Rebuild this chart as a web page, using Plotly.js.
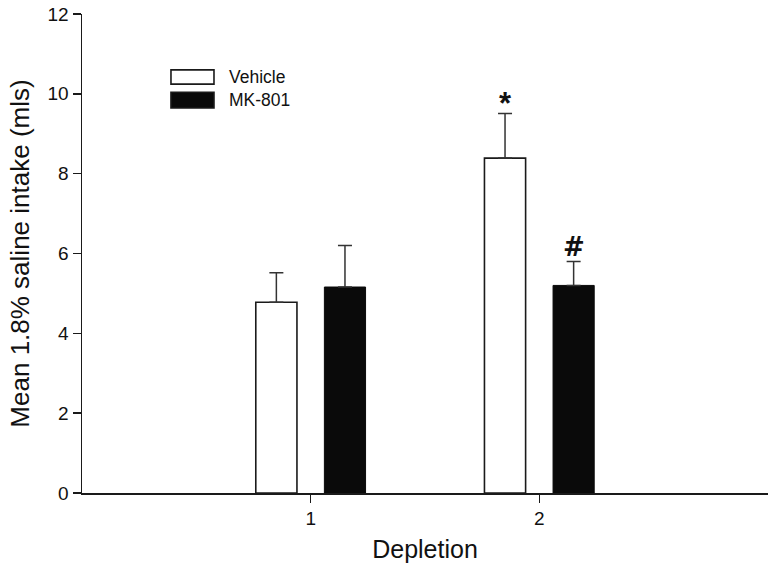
<!DOCTYPE html>
<html>
<head>
<meta charset="utf-8">
<script src="https://cdn.plot.ly/plotly-3.0.1.min.js"></script>
<style>
  html, body { margin: 0; padding: 0; background: #fff; }
  #myGraph1 { width: 776px; height: 578px; }
</style>
</head>
<body>
<div id="myGraph1"></div>
<script>
let myGraph1 = document.getElementById('myGraph1');

// data
let depletion = [1, 2];
let vehicleMean = [4.78, 8.39];
let vehicleSem = [0.74, 1.12];
let mk801Mean = [5.16, 5.20];
let mk801Sem = [1.04, 0.60];
let vehicleMarks = ['', '*'];
let mk801Marks = ['', '#'];
let seriesNames = ['Vehicle', 'MK-801'];

let font = 'Arial, "Liberation Sans", sans-serif';
let markFont = '"DejaVu Sans", Arial, sans-serif';
let ink = '#1a1a1a';

// group offset of each bar (bargap 0.4 -> group width 0.6, two slots)
let slot = 0.15;

let vehicle = {
    type: 'bar',
    name: seriesNames[0],
    x: depletion,
    y: vehicleMean,
    marker: { color: '#ffffff', line: { color: ink, width: 1.6 } },
    error_y: {
        type: 'data', symmetric: false,
        array: vehicleSem, arrayminus: [0, 0],
        color: '#333', thickness: 1.5, width: 7
    },
    showlegend: false
};

let mk801 = {
    type: 'bar',
    name: seriesNames[1],
    x: depletion,
    y: mk801Mean,
    marker: { color: '#0a0a0a', line: { color: '#0a0a0a', width: 1 } },
    error_y: {
        type: 'data', symmetric: false,
        array: mk801Sem, arrayminus: [0, 0],
        color: '#333', thickness: 1.5, width: 7
    },
    showlegend: false
};

// significance marks above the error bars
let annotations = [];
for (let i = 0; i < depletion.length; i++) {
    if (vehicleMarks[i]) {
        annotations.push({
            x: depletion[i] - slot, y: vehicleMean[i] + vehicleSem[i],
            text: '<b>' + vehicleMarks[i] + '</b>', showarrow: false,
            yanchor: 'bottom', yshift: -10,
            font: { family: font, size: 31, color: '#111' }
        });
    }
    if (mk801Marks[i]) {
        annotations.push({
            x: depletion[i] + slot, y: mk801Mean[i] + mk801Sem[i],
            text: '<b>' + mk801Marks[i] + '</b>', showarrow: false,
            yanchor: 'bottom', yshift: -3,
            font: { family: markFont, size: 26, color: '#111' }
        });
    }
}

// hand-made legend (wide swatches like the original)
let swatchFill = ['#ffffff', '#0a0a0a'];
let swatchY = [[0.8535, 0.8834], [0.8039, 0.8367]];
let shapes = [];
for (let k = 0; k < 2; k++) {
    shapes.push({
        type: 'rect', xref: 'paper', yref: 'paper',
        x0: 0.1297, x1: 0.1924, y0: swatchY[k][0], y1: swatchY[k][1],
        fillcolor: swatchFill[k], line: { color: ink, width: 1.6 }
    });
    annotations.push({
        xref: 'paper', yref: 'paper',
        x: 0.2114, y: (swatchY[k][0] + swatchY[k][1]) / 2,
        xanchor: 'left', yanchor: 'middle', showarrow: false,
        text: seriesNames[k],
        font: { family: font, size: 17.5, color: '#111' }
    });
}

let layout = {
    width: 776,
    height: 578,
    margin: { l: 82, r: 8, t: 14, b: 85 },
    paper_bgcolor: '#fff',
    plot_bgcolor: '#fff',
    barmode: 'group',
    bargap: 0.4,
    bargroupgap: 0.4,
    font: { family: font, color: '#111' },
    xaxis: {
        range: [0, 3],
        tickvals: depletion,
        ticks: 'outside', ticklen: 8, tickwidth: 1.5, tickcolor: ink,
        showline: true, linecolor: ink, linewidth: 1.5,
        showgrid: false, zeroline: false,
        tickfont: { size: 19 },
        title: { text: 'Depletion', font: { size: 25 }, standoff: 12 }
    },
    yaxis: {
        range: [0, 12],
        dtick: 2,
        ticks: 'outside', ticklen: 8, tickwidth: 1.5, tickcolor: ink,
        showline: true, linecolor: ink, linewidth: 1.5,
        showgrid: false, zeroline: false,
        tickfont: { size: 19 },
        title: { text: 'Mean 1.8% saline intake (mls)', font: { size: 26 }, standoff: 10 }
    },
    shapes: shapes,
    annotations: annotations
};

Plotly.newPlot(myGraph1, [vehicle, mk801], layout, { displayModeBar: false, staticPlot: true });
</script>
</body>
</html>
